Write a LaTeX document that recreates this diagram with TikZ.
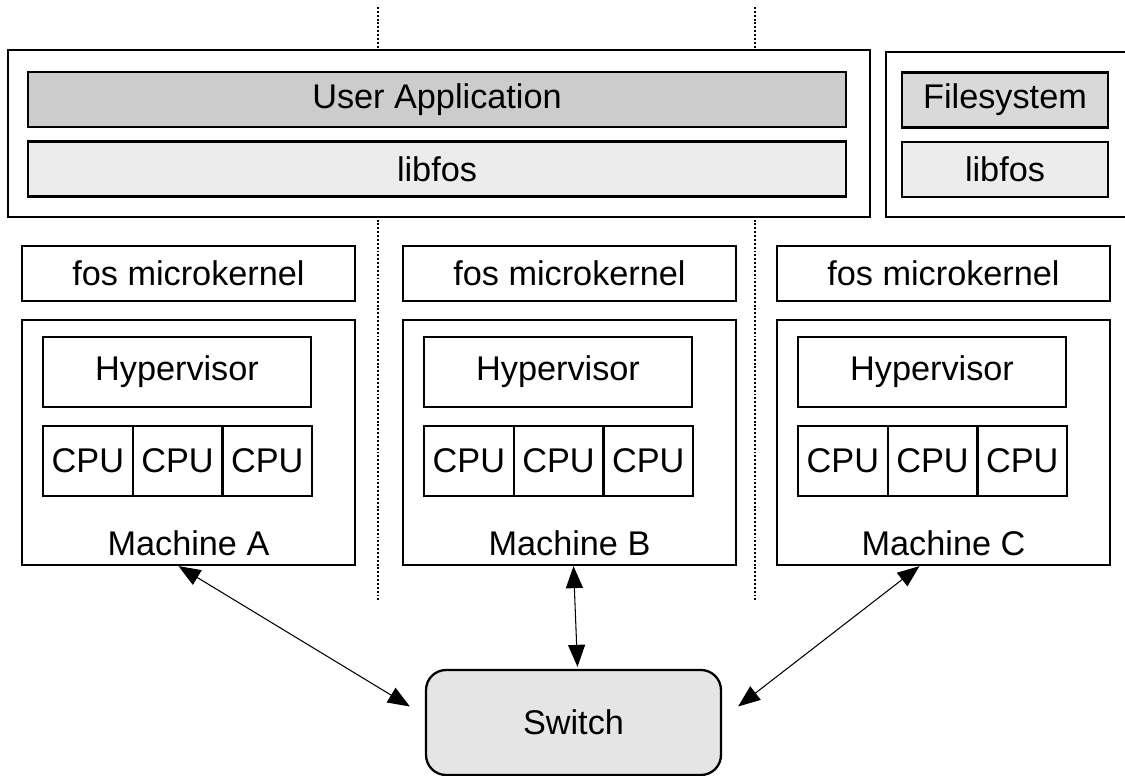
\documentclass[tikz,border=0pt]{standalone}
\usepackage{fontspec}
\setmainfont{Liberation Sans}
\usetikzlibrary{arrows.meta,positioning}
\tikzset{box/.style={draw,line width=1.3pt,fill=white,inner sep=0pt},
  lay/.style={box,minimum height=1.1cm},
  cpu/.style={box,minimum width=1.794cm,minimum height=1.4cm},
  sep/.style={line width=1.2pt,dash pattern=on 1.1pt off 1.1pt},
  link/.style={{Triangle[length=4.4mm,width=3.4mm]}-{Triangle[length=4.4mm,width=3.4mm]},line width=0.6pt}}

\begin{document}
\begin{tikzpicture}[x=0.02cm,y=-0.02cm,font=\fontsize{19.5}{22}\selectfont]
  \useasboundingbox (0,0) rectangle (1125,776);
  % dotted separators between the machines
  \coordinate (s1t) at (378,7);   \coordinate (s1b) at (378,600);
  \coordinate (s2t) at (755,7);   \coordinate (s2b) at (755,600);
  \draw[sep] (s1t) -- (s1b);
  \draw[sep] (s2t) -- (s2b);
  % application spanning the machines
  \node[box, minimum width=17.24cm, minimum height=3.34cm] (app) at (439,133.5) {};
  \node[lay, fill=gray!40, minimum width=16.36cm] (ua) at (437,99.5) {User Application};
  \node[lay, fill=gray!15, minimum width=16.36cm] (lib) at (437,169) {libfos};
  % filesystem server
  \node[box, minimum width=4.88cm, minimum height=3.3cm] (fsbox) at (1008,134.5) {};
  \node[lay, fill=gray!30, minimum width=4.12cm] (fs) at (1005,100) {Filesystem};
  \node[lay, fill=gray!15, minimum width=4.12cm] (libfs) at (1005,169.5) {libfos};
  % machines
  \foreach \m/\l in {A/22,B/403,C/777}{
    \node[lay, minimum width=6.66cm] (mk\m) at (\l+166.5,273.5) {fos microkernel};
    \node[box, minimum width=6.66cm, minimum height=4.9cm] (mac\m) at (\l+166.5,442.5) {};
    \node[lay, minimum width=5.36cm, minimum height=1.4cm] (hyp\m) at (\l+155,372) {Hypervisor};
    \foreach \i in {0,1,2}
      \node[cpu] (cpu\m\i) at (\l+65.85+\i*89.7,461) {CPU};
    \node (lbl\m) at (\l+166.5,543) {Machine \m};
  }
  \node[box, rounded corners=0.4cm, fill=gray!20, minimum width=5.9cm, minimum height=2.1cm] (sw) at (573.5,722.5) {Switch};
  \draw[link] ([xshift=-0.2cm]macA.south) -- ([shift={(-0.3cm,0.32cm)}]sw.west);
  \draw[link] ([xshift=0.08cm]macB.south) -- ([xshift=0.08cm,yshift=0.04cm]sw.north);
  \draw[link] ([xshift=-0.48cm]macC.south) -- ([shift={(0.32cm,0.32cm)}]sw.east);
\end{tikzpicture}
\end{document}
